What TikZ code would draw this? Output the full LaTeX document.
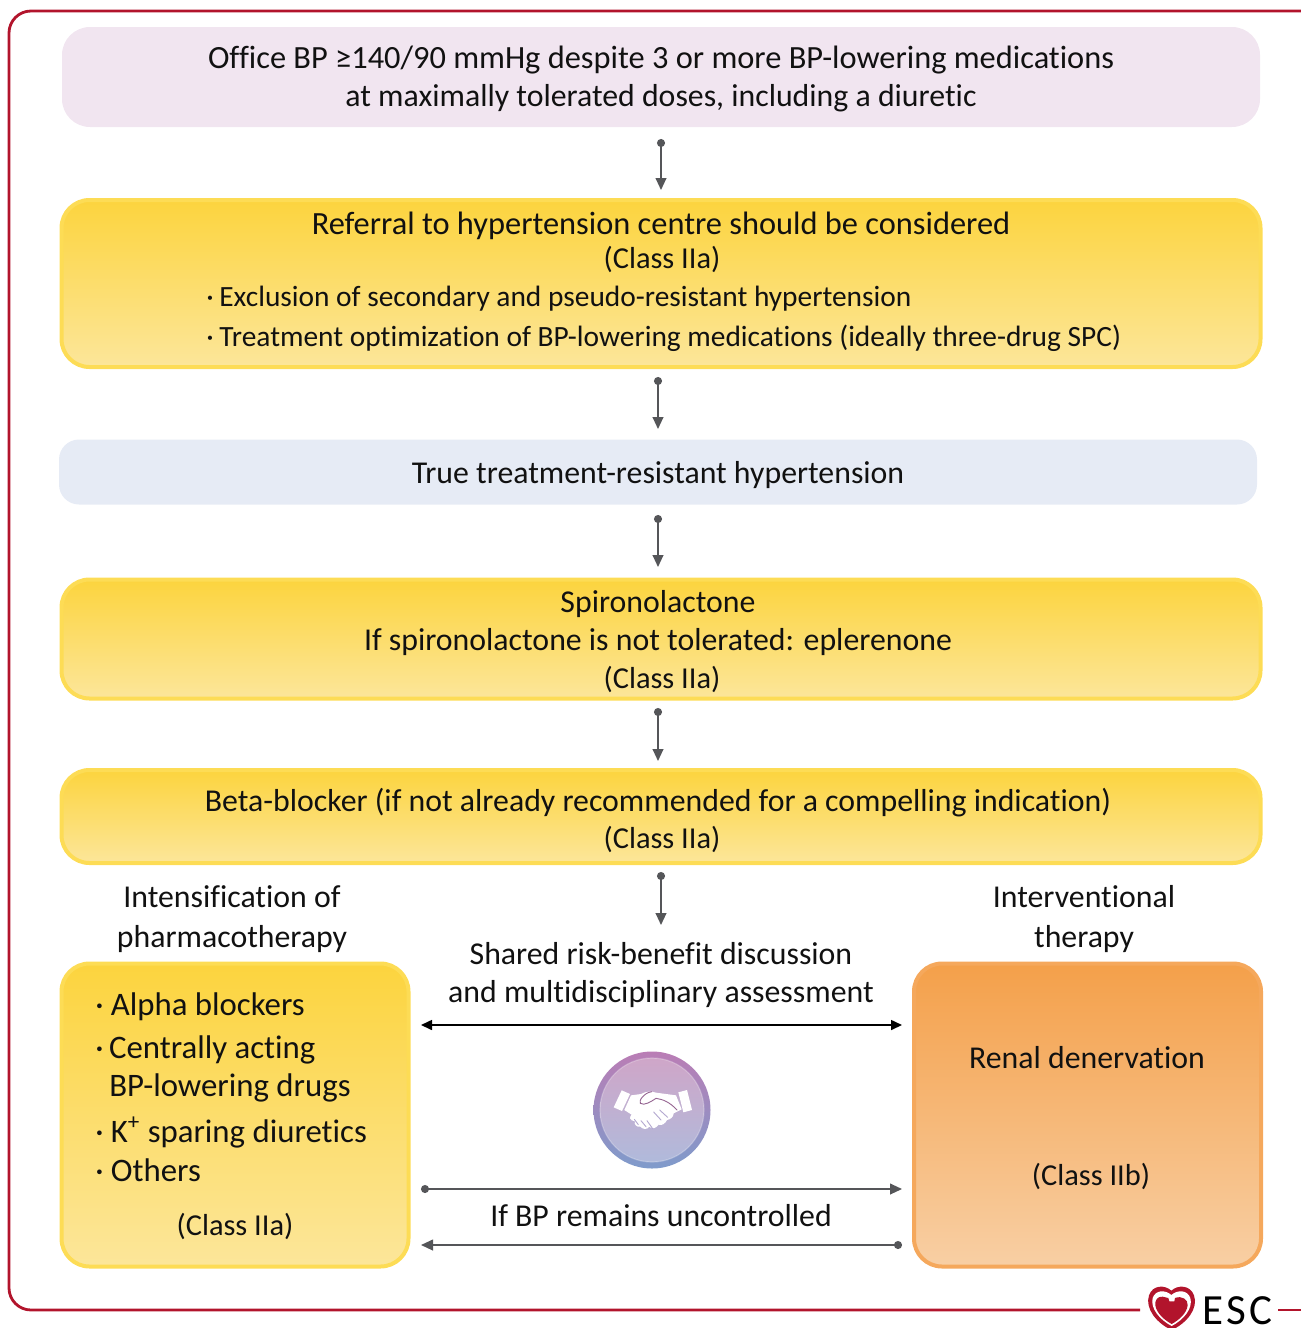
\documentclass[tikz,border=0pt]{standalone}
\usepackage{fontspec}
\setmainfont[Ligatures={NoCommon}]{Carlito}
\usetikzlibrary{arrows.meta}
\definecolor{esc}{HTML}{B2142C}
\definecolor{lnk}{HTML}{555659}
\definecolor{yelb}{HTML}{FDDC55}
\definecolor{yelt}{HTML}{FCD43E}
\definecolor{yeld}{HTML}{FCE69A}
\definecolor{orgb}{HTML}{F5A85C}
\definecolor{orgt}{HTML}{F4A04A}
\definecolor{orgd}{HTML}{F8CFA4}
\definecolor{pinkbg}{HTML}{F1E5F0}
\definecolor{bluebg}{HTML}{E6EBF5}
\definecolor{ringa}{HTML}{BA7DB5}
\definecolor{ringb}{HTML}{7F9BCB}
\definecolor{inna}{HTML}{CFA6C8}
\definecolor{innb}{HTML}{B0BADB}
\definecolor{txt}{HTML}{111111}
\tikzset{x=0.5pt,y=-0.5pt,
 box/.style={rounded corners=14pt,inner sep=0pt,outer sep=0pt},
 yel/.style={box,draw=yelb,line width=2pt,top color=yelt,bottom color=yeld},
 org/.style={box,draw=orgb,line width=2pt,top color=orgt,bottom color=orgd},
 big/.style={anchor=base,inner sep=0pt,font=\fontsize{15.9}{19}\selectfont,text=txt},
 wide/.style={anchor=base,inner sep=0pt,font=\fontsize{16.2}{19}\selectfont,text=txt},
 small/.style={anchor=base,inner sep=0pt,font=\fontsize{15.2}{19}\selectfont,text=txt},
 lft/.style={anchor=base west,inner sep=0pt,font=\fontsize{14.7}{19}\selectfont,text=txt},
 lfb/.style={anchor=base west,inner sep=0pt,font=\fontsize{16.4}{19}\selectfont,text=txt},
 conn/.style={draw=lnk,line width=0.8pt,{Circle[length=4pt]}-{Triangle[length=6pt,width=5.4pt]}},
 conr/.style={draw=lnk,line width=0.8pt,{Triangle[length=6pt,width=5.4pt]}-{Circle[length=4pt]}},
 dbl/.style={draw=black,line width=0.8pt,{Triangle[length=5.5pt,width=5pt]}-{Triangle[length=5.5pt,width=5pt]}},
}
\begin{document}
\begin{tikzpicture}
\useasboundingbox (0,0) rectangle (1301,1328);
% frame
\coordinate (fa) at (1140,1310); \coordinate (fb) at (1301,11);
\draw[esc,line width=1.4pt,rounded corners=11pt] (fa) -- (9,1310) -- (9,11) -- (fb);
\coordinate (fc) at (1278,1310); \coordinate (fd) at (1301,1310);
\draw[esc,line width=1.4pt] (fc) -- (fd);
% boxes
\node[box,fill=pinkbg,minimum width=599pt,minimum height=50pt] (top) at (661,77) {};
\node[yel,minimum width=599.5pt,minimum height=83.5pt] (ref) at (661,283.5) {};
\node[box,fill=bluebg,rounded corners=10pt,minimum width=599pt,minimum height=32.5pt] (true) at (658,472) {};
\node[yel,minimum width=599.5pt,minimum height=59.5pt] (spi) at (661,639) {};
\node[yel,minimum width=599.5pt,minimum height=46.5pt] (beta) at (661,816.5) {};
\node[yel,minimum width=173.5pt,minimum height=151.5pt] (pharm) at (235,1115) {};
\node[org,minimum width=173.5pt,minimum height=151.5pt] (renal) at (1087.5,1115) {};
% texts
\node[wide] (t1) at (661,68) {Office BP ≥140/90 mmHg despite 3 or more BP-lowering medications};
\node[big] (t2) at (661,106) {at maximally tolerated doses, including a diuretic};
\node[wide] (t3) at (661,234) {Referral to hypertension centre should be considered};
\node[small] (t4) at (662,268) {(Class IIa)};
\node[lft] (t5) at (206,306) {·\hspace{2.8pt}Exclusion of secondary and pseudo-resistant hypertension};
\node[lft] (t6) at (206,346) {·\hspace{2.8pt}Treatment optimization of BP-lowering medications (ideally three-drug SPC)};
\node[big] (t7) at (658,483) {True treatment-resistant hypertension};
\node[big] (t8) at (658,612) {Spironolactone};
\node[big] (t9) at (658,650) {If spironolactone is not tolerated: eplerenone};
\node[small] (t10) at (662,688) {(Class IIa)};
\node[big] (t11) at (658,811) {Beta-blocker (if not already recommended for a compelling indication)};
\node[small] (t12) at (662,848) {(Class IIa)};
\node[big] (t13) at (232,907) {Intensification of};
\node[big] (t14) at (232,947) {pharmacotherapy};
\node[big] (t15) at (1084,907) {Interventional};
\node[big] (t16) at (1084,947) {therapy};
\node[big] (t17) at (661,964) {Shared risk-benefit discussion};
\node[big] (t18) at (661,1002) {and multidisciplinary assessment};
\node[lfb] (b1) at (95,1015) {·\hspace{3.6pt}Alpha blockers};
\node[lfb] (b2) at (95,1058) {·\,Centrally acting};
\node[lfb] (b3) at (109,1096) {BP-lowering drugs};
\node[lfb] (b4) at (95,1142) {·\hspace{3.6pt}K\textsuperscript{+} sparing diuretics};
\node[lfb] (b5) at (95,1181) {·\hspace{3.6pt}Others};
\node[small] (t19) at (235,1235) {(Class IIa)};
\node[big] (t20) at (1087,1068) {Renal denervation};
\node[small] (t21) at (1091,1185) {(Class IIb)};
\node[big] (t22) at (661,1226) {If BP remains uncontrolled};
% connectors
\coordinate (a1) at (661,139); \coordinate (a2) at (661,190);
\coordinate (a3) at (658,377); \coordinate (a4) at (658,429);
\coordinate (a5) at (658,515); \coordinate (a6) at (658,567);
\coordinate (a7) at (658,708); \coordinate (a8) at (658,761);
\coordinate (a9) at (661,872); \coordinate (a10) at (661,925);
\draw[conn] (a1) -- (a2);
\draw[conn] (a3) -- (a4);
\draw[conn] (a5) -- (a6);
\draw[conn] (a7) -- (a8);
\draw[conn] (a9) -- (a10);
\coordinate (d1) at (421,1025); \coordinate (d2) at (902,1025);
\draw[dbl] (d1) -- (d2);
\coordinate (e1) at (421,1189); \coordinate (e2) at (902,1189);
\draw[conn] (e1) -- (e2);
\coordinate (g1) at (421,1245); \coordinate (g2) at (902,1245);
\draw[conr] (g1) -- (g2);
% handshake icon
\shade[top color=ringa,bottom color=ringb] (652,1110) circle[radius=58.5];
\shade[top color=inna,bottom color=innb,draw=white,draw opacity=.25,line width=.6pt] (652,1110) circle[radius=52];
\begin{scope}[shift={(561,1030)},x=0.16667pt,y=-0.16667pt]
\fill[white] (182,181) -- (207,192) -- (183,243) -- (158,232) -- cycle;
\fill[white] (352,187) -- (378,180) -- (393,240) -- (367,247) -- cycle;
\fill[white] (210,196) -- (240,192) .. controls (255,184) and (270,182) .. (285,188)
  -- (345,196) -- (362,238) -- (338,250)
  .. controls (337,262) and (328,268) .. (318,270)
  .. controls (313,280) and (303,288) .. (293,284)
  .. controls (285,296) and (272,298) .. (265,290)
  .. controls (258,300) and (245,298) .. (238,290)
  .. controls (226,292) and (218,282) .. (222,274)
  .. controls (205,272) and (204,260) .. (212,254)
  -- (190,240) -- cycle;
\draw[ringa!80!black,line width=.45pt,line cap=round]
  (348,240) .. controls (325,215) and (305,208) .. (285,205)
  .. controls (270,215) and (250,228) .. (238,220)
  .. controls (232,212) and (250,188) .. (272,185);
\draw[innb!70!ringa,line width=.45pt,line cap=round] (300,270) -- (278,246) (320,262) -- (296,240) (255,290) -- (240,272) (232,284) -- (220,268) (275,296) -- (258,272);
\end{scope}
% ESC logo
\begin{scope}[shift={(1120,1270)},x=0.16667pt,y=-0.16667pt]
\fill[esc] (154,62) .. controls (135,44) and (98,44) .. (87,76)
  .. controls (74,115) and (110,160) .. (155,180)
  .. controls (200,160) and (236,115) .. (222,76)
  .. controls (210,44) and (173,44) .. (154,62) -- cycle;
\fill[white] (154,75) .. controls (135,58) and (106,60) .. (98,84)
  .. controls (90,115) and (120,150) .. (155,168)
  .. controls (190,150) and (220,115) .. (211,84)
  .. controls (203,60) and (173,58) .. (154,75) -- cycle;
\fill[esc] (128,80) .. controls (112,78) and (104,92) .. (106,106)
  .. controls (110,130) and (133,150) .. (155,162)
  .. controls (177,150) and (200,130) .. (203,106)
  .. controls (205,88) and (185,76) .. (165,84) -- (163,94) -- (148,94) -- (145,84) -- cycle;
\end{scope}
\node[anchor=base,inner sep=0pt,text depth=0pt,font=\fontsize{21.5}{22}\selectfont\addfontfeature{LetterSpace=8},text=black] (escl) at (1237.5,1324) {ESC};
\end{tikzpicture}
\end{document}
